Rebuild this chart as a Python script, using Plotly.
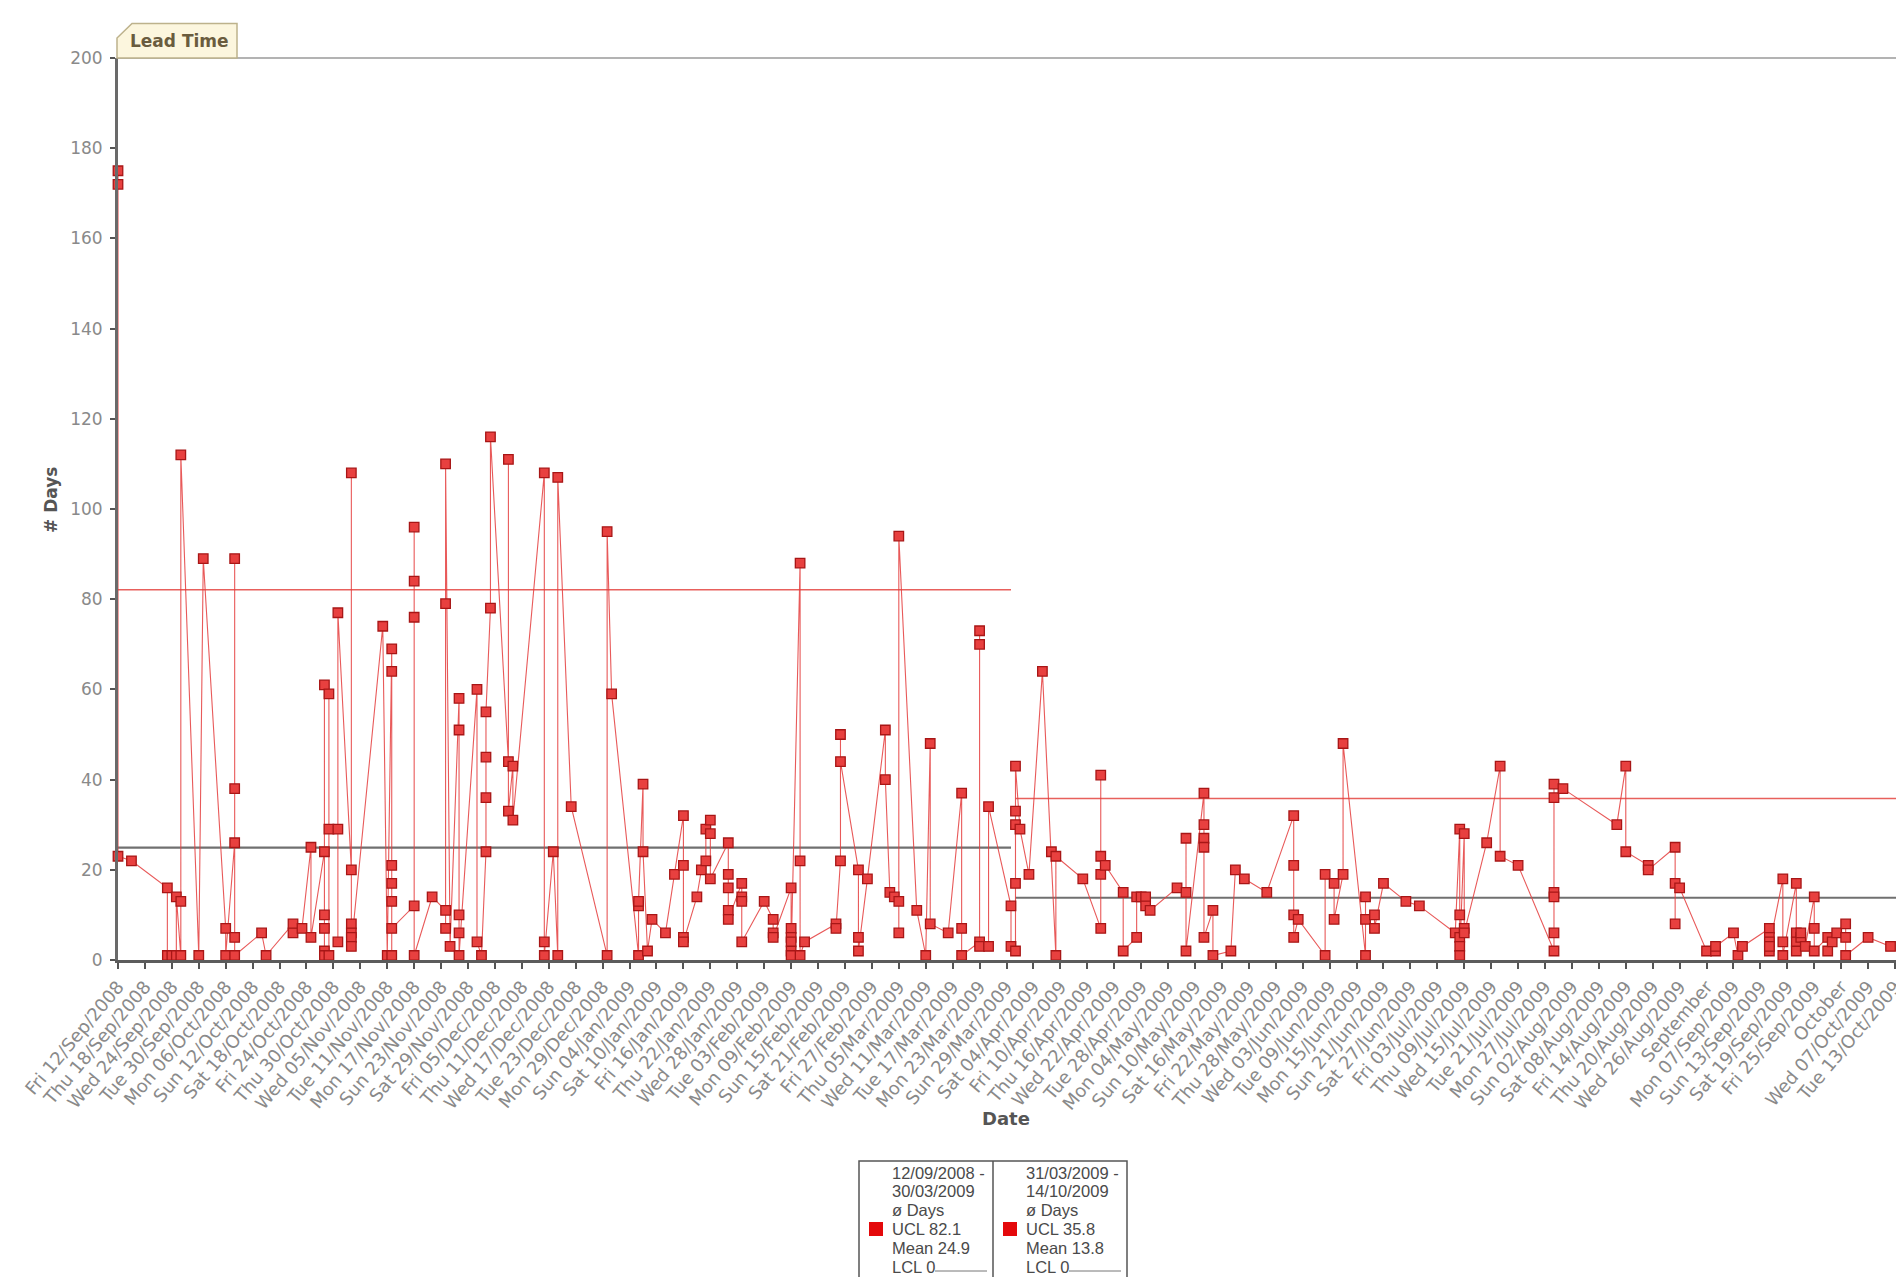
import pandas as pd
import plotly.graph_objects as go

# ---- completed work items: completion date and lead time (# days) of each item finished that day
completion_dates = [
    "2008-09-12", "2008-09-15", "2008-09-23", "2008-09-24", "2008-09-25", "2008-09-26",
    "2008-09-30", "2008-10-01", "2008-10-06", "2008-10-08", "2008-10-14", "2008-10-15",
    "2008-10-21", "2008-10-23", "2008-10-25", "2008-10-28", "2008-10-29", "2008-10-31",
    "2008-11-03", "2008-11-10", "2008-11-11", "2008-11-12", "2008-11-17", "2008-11-21",
    "2008-11-24", "2008-11-25", "2008-11-27", "2008-12-01", "2008-12-02", "2008-12-03",
    "2008-12-04", "2008-12-08", "2008-12-09", "2008-12-16", "2008-12-18", "2008-12-19",
    "2008-12-22", "2008-12-30", "2008-12-31", "2009-01-06", "2009-01-07", "2009-01-08",
    "2009-01-09", "2009-01-12", "2009-01-14", "2009-01-16", "2009-01-19", "2009-01-20",
    "2009-01-21", "2009-01-22", "2009-01-26", "2009-01-29", "2009-02-03", "2009-02-05",
    "2009-02-09", "2009-02-11", "2009-02-12", "2009-02-19", "2009-02-20", "2009-02-24",
    "2009-02-26", "2009-03-02", "2009-03-03", "2009-03-04", "2009-03-05", "2009-03-09",
    "2009-03-11", "2009-03-12", "2009-03-16", "2009-03-19", "2009-03-23", "2009-03-25",
    "2009-03-30", "2009-03-31", "2009-04-01", "2009-04-03", "2009-04-06", "2009-04-08",
    "2009-04-09", "2009-04-15", "2009-04-19", "2009-04-20", "2009-04-24", "2009-04-27",
    "2009-04-28", "2009-04-29", "2009-04-30", "2009-05-06", "2009-05-08", "2009-05-12",
    "2009-05-14", "2009-05-18", "2009-05-19", "2009-05-21", "2009-05-26", "2009-06-01",
    "2009-06-02", "2009-06-08", "2009-06-10", "2009-06-12", "2009-06-17", "2009-06-19",
    "2009-06-21", "2009-06-26", "2009-06-29", "2009-07-07", "2009-07-08", "2009-07-09",
    "2009-07-14", "2009-07-17", "2009-07-21", "2009-07-29", "2009-07-31", "2009-08-12",
    "2009-08-14", "2009-08-19", "2009-08-25", "2009-08-26", "2009-09-01", "2009-09-03",
    "2009-09-07", "2009-09-08", "2009-09-09", "2009-09-15", "2009-09-18", "2009-09-21",
    "2009-09-22", "2009-09-23", "2009-09-25", "2009-09-28", "2009-09-29", "2009-09-30",
    "2009-10-02", "2009-10-07", "2009-10-12",
]

lead_times = [
    [175, 172, 23], [22], [16, 1], [1], [1, 14], [1, 13, 112],
    [1], [89], [7, 1], [26, 38, 89, 5, 1], [6], [1],
    [8, 6], [7], [25, 5], [24, 61, 10, 7, 2, 1], [1, 59, 29], [29, 4, 77],
    [20, 108, 8, 6, 5, 3], [74], [1], [69, 64, 21, 17, 13, 1, 7], [12, 76, 84, 96, 1], [14],
    [11, 7, 79, 110], [3], [58, 51, 10, 6, 1], [60, 4], [1], [24, 36, 45, 55],
    [78, 116], [44, 111, 33], [43, 31], [108, 4, 1], [24], [1, 107],
    [34], [1, 95], [59], [1, 12, 13], [39, 24], [2],
    [9], [6], [19], [32, 21, 5, 4], [14], [20],
    [22, 29], [31, 28, 18], [26, 19, 16, 11, 9], [17, 14, 13, 4], [13], [9, 6, 5],
    [16, 7, 5, 4, 2, 1], [88, 22, 1], [4], [8, 7], [22, 50, 44], [20, 5, 2],
    [18], [51, 40], [15], [14], [13, 6, 94], [11],
    [1], [48, 8], [6], [37, 7, 1], [4, 73, 70, 3], [3, 34],
    [12, 3], [2, 17, 30, 33, 43], [29], [19], [64], [24],
    [1, 23], [18], [7, 41, 23, 19], [21], [15, 2], [5, 14],
    [14], [14, 12], [11], [16], [15, 27, 2], [37, 30, 27, 25, 5],
    [11, 1], [2], [20], [18], [15], [32, 21, 10, 5],
    [9], [1, 19], [17, 9], [19, 48], [1, 14, 9], [10, 7],
    [17], [13], [12], [6], [29, 10, 5, 3, 1], [28, 7, 6],
    [26], [43, 23], [21], [2, 6, 15, 14, 36, 39], [38], [30],
    [43, 24], [21, 20], [25, 8, 17], [16], [2], [2, 3],
    [6], [1], [3], [7, 5, 4, 2, 3], [18, 4, 1], [17, 6, 4, 2],
    [5, 6], [3], [14, 7, 2], [5, 2], [4], [6],
    [8, 5, 1], [5], [3],
]

# ---- control limits per period
period_start = ["2008-09-12", "2009-03-31"]
period_end = ["2009-03-30", "2009-10-14"]
ucl = [82.1, 35.8]
mean = [24.9, 13.8]
lcl = [0, 0]

# ---- axis ticks (every 6 days, month starts shown by name)
tick_labels = [
    "Fri 12/Sep/2008", "Thu 18/Sep/2008", "Wed 24/Sep/2008", "Tue 30/Sep/2008",
    "Mon 06/Oct/2008", "Sun 12/Oct/2008", "Sat 18/Oct/2008", "Fri 24/Oct/2008",
    "Thu 30/Oct/2008", "Wed 05/Nov/2008", "Tue 11/Nov/2008", "Mon 17/Nov/2008",
    "Sun 23/Nov/2008", "Sat 29/Nov/2008", "Fri 05/Dec/2008", "Thu 11/Dec/2008",
    "Wed 17/Dec/2008", "Tue 23/Dec/2008", "Mon 29/Dec/2008", "Sun 04/Jan/2009",
    "Sat 10/Jan/2009", "Fri 16/Jan/2009", "Thu 22/Jan/2009", "Wed 28/Jan/2009",
    "Tue 03/Feb/2009", "Mon 09/Feb/2009", "Sun 15/Feb/2009", "Sat 21/Feb/2009",
    "Fri 27/Feb/2009", "Thu 05/Mar/2009", "Wed 11/Mar/2009", "Tue 17/Mar/2009",
    "Mon 23/Mar/2009", "Sun 29/Mar/2009", "Sat 04/Apr/2009", "Fri 10/Apr/2009",
    "Thu 16/Apr/2009", "Wed 22/Apr/2009", "Tue 28/Apr/2009", "Mon 04/May/2009",
    "Sun 10/May/2009", "Sat 16/May/2009", "Fri 22/May/2009", "Thu 28/May/2009",
    "Wed 03/Jun/2009", "Tue 09/Jun/2009", "Mon 15/Jun/2009", "Sun 21/Jun/2009",
    "Sat 27/Jun/2009", "Fri 03/Jul/2009", "Thu 09/Jul/2009", "Wed 15/Jul/2009",
    "Tue 21/Jul/2009", "Mon 27/Jul/2009", "Sun 02/Aug/2009", "Sat 08/Aug/2009",
    "Fri 14/Aug/2009", "Thu 20/Aug/2009", "Wed 26/Aug/2009", "September",
    "Mon 07/Sep/2009", "Sun 13/Sep/2009", "Sat 19/Sep/2009", "Fri 25/Sep/2009",
    "October", "Wed 07/Oct/2009", "Tue 13/Oct/2009",
]
y_ticks = list(range(0, 201, 20))

# flatten to one point per item
xs, ys = [], []
for d, vals in zip(completion_dates, lead_times):
    for v in vals:
        xs.append(d)
        ys.append(v)

first_day = pd.Timestamp(completion_dates[0])
tick_vals = pd.date_range(first_day, periods=len(tick_labels), freq="6D")
x_end = first_day + pd.Timedelta(days=398)

W, H = 1904, 1277
L, R, T, B = 118, 0, 58, 317
PW, PH = W - L - R, H - T - B


def px(x):
    return (x - L) / PW


def py(y):
    return (H - B - y) / PH


FONT = "DejaVu Sans"

fig = go.Figure()

# control limit lines for each period
for s, e, u, m in zip(period_start, period_end, ucl, mean):
    fig.add_trace(go.Scatter(x=[s, e], y=[u, u], mode="lines",
                             line=dict(color="#e8605c", width=1.6),
                             hoverinfo="skip", showlegend=False))
    fig.add_trace(go.Scatter(x=[s, e], y=[m, m], mode="lines",
                             line=dict(color="#707070", width=2.2),
                             hoverinfo="skip", showlegend=False))

# lead time series: connecting line (kept under the axes) and square markers
fig.add_trace(go.Scatter(
    x=xs, y=ys, mode="lines",
    line=dict(color="rgba(228,60,60,0.85)", width=1.1),
    hoverinfo="skip", showlegend=False,
))
fig.add_trace(go.Scatter(
    x=xs, y=ys, mode="markers",
    marker=dict(symbol="square", size=9.5, color="#e8403f",
                line=dict(color="#a81616", width=1.3)),
    cliponaxis=False, showlegend=False,
))

fig.update_layout(
    width=W, height=H,
    margin=dict(l=L, r=R, t=T, b=B, pad=0),
    paper_bgcolor="white", plot_bgcolor="white",
    showlegend=False,
    xaxis=dict(
        type="date", range=[first_day, x_end],
        tickmode="array", tickvals=tick_vals, ticktext=tick_labels,
        tickangle=-50, tickfont=dict(family=FONT, size=18, color="#8a8a8a"),
        ticklabeloverflow="allow",
        ticks="outside", ticklen=6, tickwidth=1.6, tickcolor="#555555",
        showline=True, linecolor="#5c5c5c", linewidth=3,
        showgrid=False, zeroline=False,
    ),
    yaxis=dict(
        range=[0, 200], tickmode="array", tickvals=y_ticks,
        tickfont=dict(family=FONT, size=17, color="#8a8a8a"),
        ticks="outside", ticklen=5, tickwidth=1.6, tickcolor="#555555",
        ticklabelstandoff=4,
        showline=True, linecolor="#6a6a6a", linewidth=3,
        showgrid=False, zeroline=False,
    ),
)

shapes = []
annotations = []


def label(text, x, y, size, color, family=FONT, angle=0, xanchor="center"):
    annotations.append(dict(text=text, xref="paper", yref="paper", x=x, y=y,
                            xanchor=xanchor, yanchor="middle", showarrow=False,
                            textangle=angle, font=dict(family=family, size=size, color=color)))


# top frame line
shapes.append(dict(type="line", xref="paper", yref="paper", x0=0, x1=1, y0=1, y1=1,
                   line=dict(color="#9a9a9a", width=1.5)))

# "Lead Time" tab above the plot
tab = [(117, 58), (117, 38), (132, 23.5), (237, 23.5), (237, 58)]
path = "M " + " L ".join(f"{px(x):.5f},{py(y):.5f}" for x, y in tab) + " Z"
shapes.append(dict(type="path", xref="paper", yref="paper", path=path,
                   fillcolor="#fcf6de", line=dict(color="#bdb28c", width=1.5), layer="above"))
label("<b>Lead Time</b>", px(179), py(41), 17, "#6a5c3e")

# axis titles
label("<b>Date</b>", px(1006), py(1118), 18, "#555555")
label("<b># Days</b>", px(51), py(500), 17, "#555555", angle=-90)

# legend box with one column per period
box_l, box_r, box_t, box_b = 859, 1127, 1161, 1300
col_x = [859, 993]
shapes.append(dict(type="rect", xref="paper", yref="paper",
                   x0=px(box_l), x1=px(box_r), y0=py(box_b), y1=py(box_t),
                   line=dict(color="#555555", width=1.5), fillcolor="white"))
shapes.append(dict(type="line", xref="paper", yref="paper",
                   x0=px(col_x[1]), x1=px(col_x[1]), y0=py(box_b), y1=py(box_t),
                   line=dict(color="#555555", width=1.5)))


def dmy(s):
    return pd.Timestamp(s).strftime("%d/%m/%Y")


line_y = [1173, 1191, 1210, 1229, 1248, 1267]
for i, cx in enumerate(col_x):
    texts = [dmy(period_start[i]) + " -", dmy(period_end[i]), "ø Days",
             f"UCL {ucl[i]}", f"Mean {mean[i]}", f"LCL {lcl[i]}"]
    for t, yy in zip(texts, line_y):
        label(t, px(cx + 31), py(yy), 16.5, "#4a4a4a", family="Liberation Sans", xanchor="left")
    shapes.append(dict(type="rect", xref="paper", yref="paper",
                       x0=px(cx + 10), x1=px(cx + 24), y0=py(1236), y1=py(1222),
                       fillcolor="#e4090b", line=dict(width=0)))
    shapes.append(dict(type="line", xref="paper", yref="paper",
                       x0=px(cx + 76), x1=px(cx + 128), y0=py(1271), y1=py(1271),
                       line=dict(color="#777777", width=1)))

fig.update_layout(shapes=shapes, annotations=annotations)

fig.write_html("out.html")
